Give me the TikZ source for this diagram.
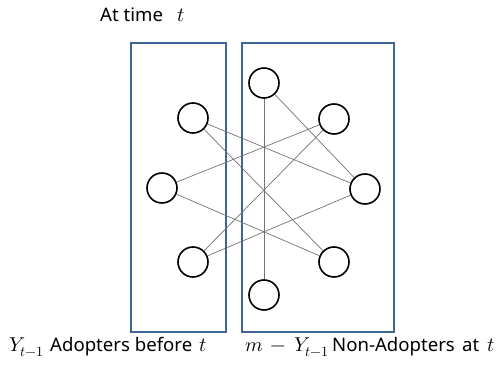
\documentclass[tikz,border=0pt]{standalone}
\usepackage{fontspec}
\usepackage{unicode-math}
\setmainfont{Noto Sans}
\setmathfont{Latin Modern Math}[Scale=1.08]
\begin{document}
\begin{tikzpicture}[x=1pt,y=-1pt,
  box/.style={draw=boxblue,line width=2pt},
  unit/.style={circle,draw=black,line width=1.6pt,minimum size=30pt,inner sep=0pt},
  link/.style={draw=black!55,line width=0.7pt},
  lab/.style={font=\fontsize{18.6}{21}\selectfont,inner sep=0pt,anchor=base west}]
\definecolor{boxblue}{HTML}{3F6497}
\useasboundingbox (0,0) rectangle (499,366);
\node[box,minimum width=95pt,minimum height=289pt,inner sep=0pt] (lbox) at (178.5,187.5) {};
\node[box,minimum width=152pt,minimum height=289pt,inner sep=0pt] (rbox) at (318,187.5) {};
\node[unit] (L1) at (193,118) {};
\node[unit] (L2) at (162,188) {};
\node[unit] (L3) at (193,262) {};
\node[unit] (R1) at (264,83) {};
\node[unit] (R2) at (334,119) {};
\node[unit] (R3) at (365,189) {};
\node[unit] (R4) at (334,262) {};
\node[unit] (R5) at (264,295) {};
\draw[link] (R1) -- (R5);
\draw[link] (R1) -- (R3);
\draw[link] (L1) -- (R3);
\draw[link] (L1) -- (R4);
\draw[link] (L2) -- (R2);
\draw[link] (L2) -- (R4);
\draw[link] (L3) -- (R2);
\draw[link] (L3) -- (R3);
\node[lab] (title) at (100,22) {At time};
\node[lab] (titlet) at (177,22) {$t$};
\node[lab] (adoptY) at (9,352) {$Y_{t-1}$};
\node[lab] (adopt) at (50,352) {Adopters before};
\node[lab] (adoptt) at (199,352) {$t$};
\node[lab] (nonY) at (245,352) {$m\mskip3mu-\mskip3mu Y_{t-1}$};
\node[lab] (non) at (332,352) {Non-Adopters};
\node[lab] (nonat) at (462,352) {at};
\node[lab] (nont) at (487,352) {$t$};
\end{tikzpicture}
\end{document}
